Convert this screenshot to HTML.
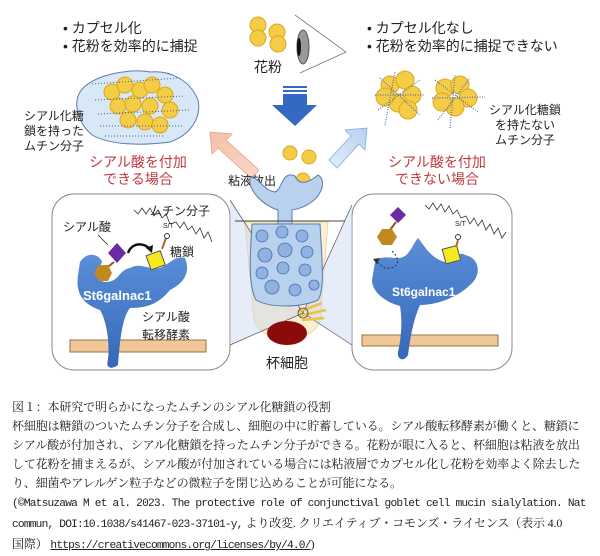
<!DOCTYPE html>
<html><head><meta charset="utf-8"><style>
html,body{margin:0;padding:0;background:#fff;}
body{width:600px;height:556px;overflow:hidden;position:relative;font-family:"Liberation Sans","Noto Sans CJK JP",sans-serif;}
.cap{position:absolute;left:12px;top:398px;width:586px;font-size:12px;line-height:19px;color:#222;font-family:"Liberation Serif","Noto Serif CJK SC","Noto Sans CJK JP",serif;letter-spacing:-0.15px;}
.cap .m{font-family:"Liberation Mono","Noto Sans CJK JP",monospace;font-size:11.2px;letter-spacing:-0.8px;}
</style></head><body>
<svg width="600" height="395" viewBox="0 0 600 395" style="position:absolute;left:0;top:0" font-family="Liberation Sans, Noto Sans CJK JP, sans-serif">
<defs>
<linearGradient id="og" x1="0" y1="0" x2="1" y2="1"><stop offset="0" stop-color="#f5c0a8"/><stop offset="1" stop-color="#f8d8c8"/></linearGradient>
<linearGradient id="bg" x1="0" y1="1" x2="1" y2="0"><stop offset="0" stop-color="#e4eefa"/><stop offset="1" stop-color="#b8d0ee"/></linearGradient>
<linearGradient id="pg" x1="0" y1="0" x2="0" y2="1"><stop offset="0" stop-color="#5b8ed8"/><stop offset="1" stop-color="#3568b8"/></linearGradient>
</defs>
<g font-size="14" fill="#222">
<text x="63" y="33">• カプセル化</text>
<text x="63" y="51">• 花粉を効率的に捕捉</text>
<text x="367" y="33">• カプセル化なし</text>
<text x="367" y="51">• 花粉を効率的に捕捉できない</text>
</g>
<g fill="#f5cc45" stroke="#d8a820" stroke-width="1">
<circle cx="258" cy="25" r="8"/><circle cx="258" cy="38" r="8"/><circle cx="277" cy="32" r="8"/><circle cx="278" cy="44" r="8"/>
</g>
<polyline points="295,15 346,52 300,73" fill="none" stroke="#777" stroke-width="0.8"/>
<ellipse cx="303" cy="47" rx="6" ry="17" fill="#999" stroke="#555"/>
<ellipse cx="299" cy="47" rx="2" ry="9" fill="#111"/>
<text x="268" y="72" font-size="14" text-anchor="middle" fill="#222">花粉</text>
<rect x="283" y="86" width="24" height="2" fill="#3568c0"/><rect x="283" y="90" width="24" height="2" fill="#3568c0"/>
<polygon points="283,94 307,94 307,105 317,105 295,126 272,105 283,105" fill="#3568c0"/>
<path d="M80,92 C90,75 130,68 150,72 C170,70 190,80 198,100 C202,118 190,135 170,142 C140,146 110,145 92,135 C80,125 72,105 80,92 Z" fill="#d8e8f6" stroke="#5a7ab0" stroke-width="1"/>
<g fill="#f5cc45" stroke="#d8a820">
<circle cx="112" cy="92" r="8"/><circle cx="125" cy="85" r="8"/><circle cx="140" cy="90" r="8"/><circle cx="152" cy="85" r="8"/><circle cx="165" cy="95" r="8"/>
<circle cx="118" cy="106" r="8"/><circle cx="133" cy="104" r="8"/><circle cx="150" cy="106" r="8"/><circle cx="170" cy="110" r="8"/>
<circle cx="128" cy="120" r="8"/><circle cx="145" cy="122" r="8"/><circle cx="160" cy="125" r="8"/>
</g>
<g stroke="#4060a0" stroke-width="1" stroke-dasharray="1,2">
<line x1="92" y1="84" x2="180" y2="78"/><line x1="95" y1="100" x2="185" y2="96"/><line x1="98" y1="114" x2="190" y2="110"/><line x1="100" y1="126" x2="182" y2="126"/><line x1="105" y1="136" x2="165" y2="136"/>
</g>
<g font-size="12" fill="#222">
<text x="24" y="120">シアル化糖</text><text x="24" y="135">鎖を持った</text><text x="24" y="150">ムチン分子</text>
</g>
<g fill="#f5cc45" stroke="#d8a820">
<circle cx="390" cy="85" r="9"/><circle cx="405" cy="80" r="9"/><circle cx="412" cy="95" r="9"/><circle cx="398" cy="103" r="9"/><circle cx="385" cy="97" r="9"/><circle cx="408" cy="110" r="9"/>
<circle cx="445" cy="88" r="9"/><circle cx="460" cy="85" r="9"/><circle cx="468" cy="98" r="9"/><circle cx="455" cy="107" r="9"/><circle cx="442" cy="102" r="9"/>
</g>
<g stroke="#5070b0" stroke-width="1.2" stroke-dasharray="1,1.5">
<line x1="380" y1="78" x2="420" y2="115"/><line x1="378" y1="110" x2="420" y2="80"/><line x1="375" y1="95" x2="425" y2="95"/><line x1="385" y1="125" x2="395" y2="72"/>
<line x1="435" y1="80" x2="478" y2="112"/><line x1="438" y1="120" x2="470" y2="78"/><line x1="432" y1="98" x2="485" y2="97"/><line x1="450" y1="128" x2="455" y2="75"/>
</g>
<g font-size="12" fill="#222" text-anchor="middle">
<text x="525" y="114">シアル化糖鎖</text><text x="525" y="129">を持たない</text><text x="525" y="144">ムチン分子</text>
</g>
<g font-size="14" fill="#c0393f" text-anchor="middle">
<text x="138" y="167">シアル酸を付加</text><text x="138" y="184">できる場合</text>
<text x="437" y="167">シアル酸を付加</text><text x="437" y="184">できない場合</text>
</g>
<polygon points="210,132 232,134 226,140 259,170 251,178 218,148 212,154" fill="url(#og)" stroke="#e8a080" stroke-width="0.8"/>
<polygon points="367,128 345,130 351,136 329,160 337,168 359,144 365,150" fill="url(#bg)" stroke="#8aaad8" stroke-width="0.8"/>
<text x="228" y="185" font-size="12" fill="#222">粘液放出</text>
<g fill="#f5cc45" stroke="#d8a820"><circle cx="290" cy="153" r="7"/><circle cx="309" cy="157" r="7"/><circle cx="303" cy="180" r="7"/></g>
<rect x="52" y="194" width="178" height="176" rx="22" fill="#fff" stroke="#888" stroke-width="1"/>
<rect x="352" y="194" width="160" height="176" rx="22" fill="#fff" stroke="#888" stroke-width="1"/>
<path d="M245,222 L328,222 L320,320 C315,345 260,345 254,320 Z" fill="#fbefd0" stroke="#ecd8a8"/>
<polygon points="230,200 303,313 230,345" fill="#c8d4f0" opacity="0.45"/>
<polygon points="352,205 303,313 352,345" fill="#c8d4f0" opacity="0.45"/>
<line x1="230" y1="200" x2="303" y2="313" stroke="#556" stroke-width="0.7"/>
<line x1="230" y1="345" x2="303" y2="313" stroke="#556" stroke-width="0.7"/>
<line x1="352" y1="205" x2="303" y2="313" stroke="#556" stroke-width="0.7"/>
<line x1="352" y1="345" x2="303" y2="313" stroke="#556" stroke-width="0.7"/>
<path d="M252,224 L320,224 C322,260 325,290 318,300 C300,308 270,308 256,300 C248,285 250,255 252,224 Z" fill="#b8d2ee" stroke="#5a7ab0"/>
<path d="M278,224 L278,210 C262,205 248,190 250,178 C258,175 262,190 275,192 C282,190 282,170 295,176 C300,188 312,180 318,175 C328,180 322,205 292,210 L292,224 Z" fill="#b8d2ee" stroke="#5a7ab0"/>
<line x1="235" y1="221" x2="345" y2="221" stroke="#444" stroke-width="1"/>
<g fill="#8fb2e0" stroke="#4a6ab0" stroke-width="0.8">
<circle cx="262" cy="236" r="6"/><circle cx="282" cy="232" r="6"/><circle cx="302" cy="236" r="6"/><circle cx="265" cy="255" r="7"/><circle cx="285" cy="250" r="7"/><circle cx="307" cy="252" r="6"/>
<circle cx="262" cy="273" r="6"/><circle cx="283" cy="268" r="6"/><circle cx="305" cy="270" r="6"/><circle cx="272" cy="287" r="7"/><circle cx="295" cy="290" r="6"/><circle cx="314" cy="285" r="5"/>
</g>
<g stroke="#f0c040" stroke-width="2.5"><line x1="298" y1="312" x2="322" y2="303"/><line x1="300" y1="316" x2="326" y2="310"/><line x1="302" y1="320" x2="324" y2="318"/></g>
<circle cx="303" cy="313" r="5" fill="none" stroke="#444" stroke-width="0.8"/>
<ellipse cx="287" cy="333" rx="20" ry="12" fill="#8b0a0a"/>
<text x="287" y="368" font-size="14" text-anchor="middle" fill="#222">杯細胞</text>
<rect x="70" y="340" width="136" height="12" fill="#f0c898" stroke="#9a7040" stroke-width="1"/>
<path d="M80,262 C88,250 100,255 102,262 C98,270 92,280 105,282 C120,282 118,270 130,268 C140,262 148,270 160,268 C170,264 175,255 185,258 C192,275 180,285 170,290 C160,302 150,308 130,308 C122,318 120,340 118,365 C112,370 105,368 108,360 C110,340 106,320 100,310 C85,305 75,295 78,275 Z" fill="url(#pg)"/>
<text x="83" y="300" font-size="13" font-weight="bold" fill="#fff">St6galnac1</text>
<polygon points="117,243 126,253 117,263 108,253" fill="#6a2aa0"/>
<line x1="114" y1="262" x2="104" y2="270" stroke="#a05020" stroke-width="2"/>
<polygon points="94,273 99,265 108,265 112,273 108,281 99,281" fill="#c08a20"/>
<path d="M128,253 C132,242 145,242 150,250" fill="none" stroke="#111" stroke-width="2.5"/>
<polygon points="152,253 146,248 153,245" fill="#111"/>
<rect x="148" y="253" width="15" height="15" fill="#f5ea20" stroke="#555" transform="rotate(-20 155 260)"/>
<line x1="162" y1="249" x2="166" y2="238" stroke="#c06020" stroke-width="2"/>
<circle cx="167" cy="236" r="2.5" fill="#fff" stroke="#333"/>
<polyline points="134,210 138,214 142,208 146,214 150,208 154,216 158,210 162,218 166,214 170,224 176,222 180,228 184,222 188,230 192,226 196,234 200,228 204,238 208,232 212,242" fill="none" stroke="#333" stroke-width="0.8"/>
<text x="163" y="228" font-size="7" fill="#222">S/T</text>
<g font-size="12" fill="#222">
<text x="63" y="231">シアル酸</text><text x="150" y="215">ムチン分子</text><text x="170" y="256">糖鎖</text>
<text x="142" y="321">シアル酸</text><text x="142" y="339">転移酵素</text>
</g>
<line x1="98" y1="235" x2="108" y2="245" stroke="#222" stroke-width="0.8"/>
<rect x="362" y="335" width="136" height="11" fill="#f0c898" stroke="#9a7040" stroke-width="1"/>
<path d="M375,262 C380,255 390,258 400,258 C410,256 412,245 418,238 C424,245 430,258 445,262 C455,262 458,250 465,255 C480,258 482,275 470,285 C460,295 440,305 420,305 C413,320 410,340 408,355 C404,362 397,360 398,352 C402,335 402,318 400,306 C385,302 372,292 372,280 Z" fill="url(#pg)"/>
<text x="392" y="296" font-size="12" font-weight="bold" fill="#fff">St6galnac1</text>
<polygon points="398,207 406,215 398,223 390,215" fill="#6a2aa0"/>
<line x1="396" y1="222" x2="390" y2="230" stroke="#a05020" stroke-width="2"/>
<polygon points="377,237 382,229 392,229 397,237 392,245 382,245" fill="#c08a20"/>
<path d="M392,251 C402,260 398,270 385,268 L376,262" fill="none" stroke="#333" stroke-width="1" stroke-dasharray="2,2"/>
<polygon points="373,259 380,258 377,264" fill="#333"/>
<rect x="444" y="247" width="15" height="15" fill="#f5ea20" stroke="#555" transform="rotate(-15 452 255)"/>
<line x1="456" y1="247" x2="458" y2="240" stroke="#c06020" stroke-width="2"/>
<circle cx="458" cy="237" r="2.5" fill="#fff" stroke="#333"/>
<polyline points="425,205 429,209 433,203 437,210 441,204 445,212 449,206 453,214 457,210 461,218 466,216 470,224 474,218 478,226 482,220 486,230 490,224 494,234 498,228 502,238 506,232" fill="none" stroke="#333" stroke-width="0.8"/>
<text x="455" y="226" font-size="7" fill="#222">S/T</text>
</svg>
<div class="cap">図１：本研究で明らかになったムチンのシアル化糖鎖の役割<br>杯細胞は糖鎖のついたムチン分子を合成し、細胞の中に貯蓄している。シアル酸転移酵素が働くと、糖鎖に<br>シアル酸が付加され、シアル化糖鎖を持ったムチン分子ができる。花粉が眼に入ると、杯細胞は粘液を放出<br>して花粉を捕まえるが、シアル酸が付加されている場合には粘液層でカプセル化し花粉を効率よく除去した<br>り、細菌やアレルゲン粒子などの微粒子を閉じ込めることが可能になる。<br><span class="m">(©Matsuzawa M et al. 2023. The protective role of conjunctival goblet cell mucin sialylation. Nat</span><br><span class="m">commun, DOI:10.1038/s41467-023-37101-y,</span> より改変. クリエイティブ・コモンズ・ライセンス（表示 4.0<br>国際） <span class="m" style="text-decoration:underline">https://creativecommons.org/licenses/by/4.0/</span>)</div>
</body></html>
